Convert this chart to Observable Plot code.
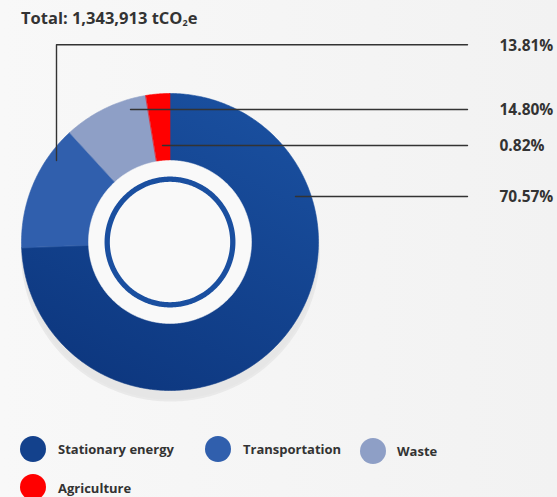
<!DOCTYPE html>
<html><head><meta charset="utf-8">
<script src="https://cdn.jsdelivr.net/npm/d3@7"></script>
<script src="https://cdn.jsdelivr.net/npm/@observablehq/plot@0.6"></script>
<style>
html,body{margin:0;padding:0;}
body{width:557px;height:497px;overflow:hidden;background:linear-gradient(to right,#f8f8f8,#f2f2f2);font-family:"Open Sans",sans-serif;color:#333;}
#title{position:relative;height:40px;}
#title span.t{position:absolute;left:21px;top:10px;font-size:16.5px;line-height:16.5px;font-weight:700;white-space:nowrap;}
#title sub{font-size:9px;vertical-align:-2px;line-height:0;}
#chart{height:380px;}
#chart svg{display:block;overflow:visible;}
#legend{position:relative;height:77px;}
.lt{position:absolute;font-size:13px;line-height:13px;font-weight:700;white-space:nowrap;}
.sw{position:absolute;width:26px;height:26px;border-radius:50%;}
</style></head><body>
<div id="title"><span class="t">Total: 1,343,913 tCO<sub>2</sub>e</span></div>
<div id="chart"></div>
<div id="legend"></div>
<script>
// ---- data ----
const categories = ["Stationary energy", "Transportation", "Waste", "Agriculture"];
const sliceShare = [74.4, 13.8, 9.2, 2.6];          // shares as drawn in the picture
const labelText = ["70.57%", "13.81%", "14.80%", "0.82%"];
const sliceColors = ["url(#gStat)", "#305fad", "#8e9fc6", "#ff0000"];
const legendColors = ["#13418c", "#305fad", "#8e9fc6", "#ff0000"];

// ---- layout (pixels) ----
const W = 557, H = 380, CX = 169.5, CY = 201.5, R = 148.5;
const px = p => (p - CX) / R;
const py = p => (CY - p) / R;
const innerR = 81.5 / R, ringR = 62.8 / R;
const labelY = [156, 4.3, 69, 105];            // svg y of each label line
const leaderStart = [[295, 156], [56, 120], [130, 69], [162, 105]];
const lineEndX = 467, labelX = 499;

const rows = categories.map((c, i) => ({cat: c, share: sliceShare[i], label: labelText[i]}));
const arcs = d3.pie().sort(null).value(d => d.share).startAngle(0).endAngle(2 * Math.PI)(rows);

const slicePts = [];
for (const a of arcs) {
  const n = Math.max(4, Math.ceil((a.endAngle - a.startAngle) / 0.01));
  for (let k = 0; k <= n; k++) {
    const t = a.startAngle + (a.endAngle - a.startAngle) * k / n;
    slicePts.push({cat: a.data.cat, x: Math.sin(t), y: Math.cos(t)});
  }
  for (let k = n; k >= 0; k--) {
    const t = a.startAngle + (a.endAngle - a.startAngle) * k / n;
    slicePts.push({cat: a.data.cat, x: innerR * 0.98 * Math.sin(t), y: innerR * 0.98 * Math.cos(t)});
  }
}
function circle(r, cx = 0, cy = 0) {
  return d3.range(0, 361, 1).map(d => ({x: cx + r * Math.sin(d * Math.PI / 180), y: cy + r * Math.cos(d * Math.PI / 180)}));
}

const leaders = [];
rows.forEach((r, i) => {
  const [sx, sy] = leaderStart[i];
  leaders.push({g: i, x: px(sx), y: py(sy)});
  if (i === 1) leaders.push({g: i, x: px(sx), y: py(labelY[i])});
  leaders.push({g: i, x: px(lineEndX), y: py(labelY[i])});
});
const labels = rows.map((r, i) => ({text: r.label, x: px(labelX), y: py(labelY[i])}));

const svg = Plot.plot({
  width: W, height: H, margin: 0,
  x: {domain: [px(0), px(W)], axis: null},
  y: {domain: [py(H), py(0)], axis: null},
  color: {type: "ordinal", domain: categories, range: sliceColors},
  style: {background: "transparent", overflow: "visible"},
  marks: [
    Plot.line(circle(1, 0.003, -10 / R), {x: "x", y: "y", curve: "linear-closed", fill: "#e6e6e6", stroke: "#e9e9e9", strokeWidth: 2}),
    Plot.line(slicePts, {x: "x", y: "y", z: "cat", fill: "cat", stroke: "cat", strokeWidth: 0.6, curve: "linear-closed"}),
    Plot.line(circle(innerR), {x: "x", y: "y", curve: "linear-closed", fill: "#f9f9f9", stroke: "#f9f9f9", strokeWidth: 0.5}),
    Plot.line(circle(ringR), {x: "x", y: "y", curve: "linear-closed", fill: "none", stroke: "#1a4fa0", strokeWidth: 5.3}),
    Plot.line(leaders, {x: "x", y: "y", z: "g", stroke: "#333", strokeWidth: 1.4}),
    Plot.text(labels, {x: "x", y: "y", text: "text", textAnchor: "start", lineAnchor: "middle", dy: 1, fontSize: 15.5, fontWeight: 700, fill: "#333", fontFamily: "Open Sans"})
  ]
});
const defs = d3.select(svg).insert("defs", ":first-child");
const g = defs.append("linearGradient").attr("id", "gStat").attr("x1", 0.8).attr("y1", 0).attr("x2", 0.3).attr("y2", 1);
g.append("stop").attr("offset", 0).attr("stop-color", "#1a50a0");
g.append("stop").attr("offset", 1).attr("stop-color", "#0d377f");
document.getElementById("chart").appendChild(svg);

// ---- legend ----
const legendPos = [[33, 29.3, 58, 34.3], [218, 29, 243, 34], [373, 31, 397, 36.5], [33, 67, 58, 73.3]];
const leg = d3.select("#legend");
rows.forEach((r, i) => {
  const [cx, cy, tx, tb] = legendPos[i];
  leg.append("div").attr("class", "sw").style("left", (cx - 13) + "px").style("top", (cy - 13) + "px").style("background", legendColors[i]);
  leg.append("div").attr("class", "lt").style("left", tx + "px").style("top", (tb - 11.5) + "px").text(r.cat);
});
</script>
</body></html>
